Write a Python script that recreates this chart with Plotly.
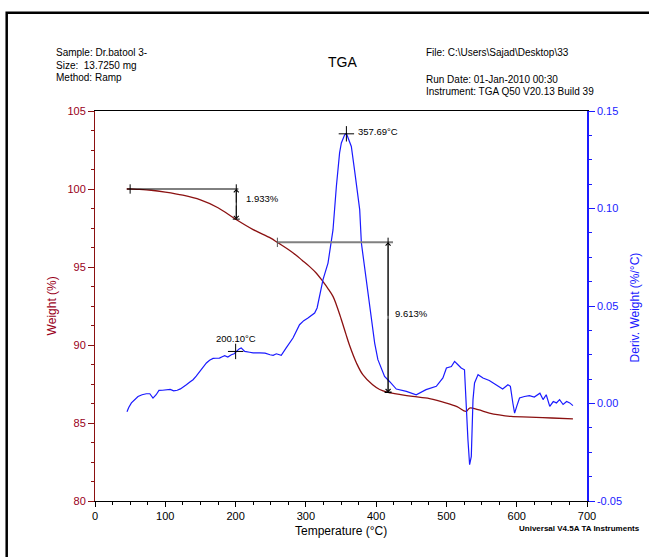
import plotly.graph_objects as go

# ---------------- data ----------------
tga_temp = [45, 50, 60, 80, 100, 125, 150, 175, 200, 225, 250, 260, 282, 295, 305, 315, 324, 331,
            338.6, 344, 350, 357, 362, 372, 381, 395, 405, 417, 435, 452, 476, 500, 515, 528, 533,
            545, 561, 575, 592, 618, 650, 680]
tga_weight = [100.0, 100.0, 99.98, 99.92, 99.8, 99.6, 99.3, 98.8, 98.07, 97.4, 96.85, 96.56, 95.9,
              95.42, 95.04, 94.6, 94.08, 93.65, 93.12, 92.5, 91.7, 90.7, 90.0, 88.85, 88.1, 87.45,
              87.15, 86.97, 86.82, 86.7, 86.56, 86.28, 86.05, 85.74, 85.96, 85.85, 85.64, 85.52,
              85.42, 85.38, 85.32, 85.27]

dtg_temp = [45.5, 48, 51.8, 56, 61.2, 67, 73, 78, 82.5, 87, 91, 96, 102, 107, 112, 117, 121.5, 126,
            130, 135, 139.5, 144, 149, 154, 158.5, 163, 168, 172, 177, 181, 184.5, 189, 194, 198,
            201, 205, 208, 213, 220, 225, 234.5, 242, 249, 253.5, 258, 265, 272, 281.7, 291, 297,
            303, 312.5, 316, 319.6, 324.4, 331.5, 336.3, 338.6, 343.4, 345.7, 348, 350.5, 355.2,
            357.7, 358.9, 361, 364.7, 369.5, 376.6, 379, 386, 393, 397.9, 402.5, 412, 419, 428.7,
            443, 457, 471, 485.6, 495, 500, 507, 511.6, 516.4, 521, 525.7, 528, 530.6, 533, 535.4,
            537.8, 540, 545, 552, 561, 571, 580, 587.5, 591, 594.6, 597, 600, 604, 611, 618, 625,
            630, 633, 637.5, 642, 647, 652, 656.5, 661, 666, 671, 675.5, 680]
dtg_value = [-0.0042, -0.002, 0.0003, 0.002, 0.0036, 0.0045, 0.005, 0.005, 0.0028, 0.0045, 0.0067,
             0.0068, 0.007, 0.0072, 0.0065, 0.0068, 0.0075, 0.0085, 0.0096, 0.011, 0.0122, 0.014,
             0.0165, 0.019, 0.0208, 0.0222, 0.0231, 0.0232, 0.0233, 0.024, 0.0245, 0.0238, 0.025,
             0.0255, 0.0267, 0.028, 0.0285, 0.0267, 0.0263, 0.026, 0.026, 0.0258, 0.025, 0.0247,
             0.0255, 0.0247, 0.0285, 0.0336, 0.0404, 0.0425, 0.0438, 0.0464, 0.049, 0.055, 0.0635,
             0.072, 0.0823, 0.089, 0.1113, 0.1216, 0.1285, 0.1336, 0.1378, 0.1385, 0.1373, 0.136,
             0.1318, 0.119, 0.0994, 0.0823, 0.0635, 0.0447, 0.031, 0.0225, 0.0139, 0.0113, 0.0074,
             0.0062, 0.0045, 0.0071, 0.0088, 0.0131, 0.0182, 0.019, 0.0216, 0.0199, 0.0182, 0.0173,
             -0.0032, -0.0186, -0.0314, -0.0271, 0.002, 0.0105, 0.0148, 0.0131, 0.0118, 0.0097,
             0.0074, 0.0096, 0.0088, 0.0, -0.0049, -0.0015, 0.0028, 0.0036, 0.004, 0.0033, 0.0048,
             0.0053, 0.002, 0.0045, -0.0015, 0.001, 0.0003, 0.002, -0.0005, 0.001, 0.0003, -0.0011]
assert len(tga_temp) == len(tga_weight)
assert len(dtg_temp) == len(dtg_value)

# step analysis annotations
step1 = dict(t_start=50, t_end=201, w_start=100.0, w_end=98.07, label="1.933%")
step2 = dict(t_start=259.5, t_end=417, w_start=96.58, w_end=86.97, label="9.613%")
peak_temps = [357.69, 200.10]
peak_values = [0.1383, 0.0267]
peak_labels = ["357.69°C", "200.10°C"]

x_ticks = [0, 100, 200, 300, 400, 500, 600, 700]
y_ticks = [80, 85, 90, 95, 100, 105]
y2_ticks = [-0.05, 0.00, 0.05, 0.10, 0.15]

BROWN = "#8b1111"
BROWN_TXT = "#99001a"
BLUE = "#1a1aff"
FONT = "Liberation Sans, Arial, sans-serif"
NARROW = "Liberation Sans Narrow, Liberation Sans, Arial, sans-serif"

W, H = 649, 557
L, R, T, B = 95.3, 587.3, 111.3, 501.3


def px(xp):
    return (xp - L) / (R - L)


def py(yp):
    return (B - yp) / (B - T)


fig = go.Figure()

fig.add_trace(go.Scatter(x=tga_temp, y=tga_weight, mode="lines", line=dict(color=BROWN, width=1.3, shape="spline"),
                         showlegend=False, hoverinfo="skip"))
fig.add_trace(go.Scatter(x=dtg_temp, y=dtg_value, mode="lines", yaxis="y2",
                         line=dict(color=BLUE, width=1.2), showlegend=False, hoverinfo="skip"))

# peak markers
fig.add_trace(go.Scatter(x=peak_temps, y=peak_values, mode="markers", yaxis="y2",
                         marker=dict(symbol="cross-thin", size=11, line=dict(color="black", width=1)),
                         showlegend=False, hoverinfo="skip"))

shapes = []
# step 1
shapes.append(dict(type="line", xref="x", yref="y", x0=45.5, x1=204, y0=step1["w_start"], y1=step1["w_start"],
                   line=dict(color="black", width=1)))
shapes.append(dict(type="line", xref="x", yref="y", x0=step1["t_start"], x1=step1["t_start"],
                   y0=step1["w_start"] - 0.3, y1=step1["w_start"] + 0.3, line=dict(color="black", width=1)))
shapes.append(dict(type="line", xref="x", yref="y", x0=step1["t_end"], x1=step1["t_end"],
                   y0=step1["w_end"], y1=step1["w_start"] + 0.3, line=dict(color="black", width=1)))
shapes.append(dict(type="line", xref="x", yref="y", x0=196, x1=206, y0=step1["w_end"], y1=step1["w_end"],
                   line=dict(color="black", width=1)))
# step 2
shapes.append(dict(type="line", xref="x", yref="y", x0=step2["t_start"], x1=424, y0=step2["w_start"],
                   y1=step2["w_start"], line=dict(color="#808080", width=2)))
shapes.append(dict(type="line", xref="x", yref="y", x0=step2["t_start"], x1=step2["t_start"],
                   y0=step2["w_start"] - 0.3, y1=step2["w_start"] + 0.3, line=dict(color="#555555", width=1)))
shapes.append(dict(type="line", xref="x", yref="y", x0=step2["t_end"], x1=step2["t_end"],
                   y0=step2["w_end"], y1=step2["w_start"] + 0.3, line=dict(color="black", width=1)))
shapes.append(dict(type="line", xref="x", yref="y", x0=412, x1=422, y0=step2["w_end"], y1=step2["w_end"],
                   line=dict(color="black", width=1.5)))
# outer frame
shapes.append(dict(type="rect", xref="paper", yref="paper", x0=px(7), x1=px(660), y0=py(570), y1=py(13),
                   line=dict(color="black", width=2.5), fillcolor="rgba(0,0,0,0)"))

annotations = []
# arrowheads for steps
for st in (step1, step2):
    for y_from, y_to in ((st["w_start"] - (st["w_start"] - st["w_end"]) * 0.5, st["w_start"]),
                         (st["w_start"] - (st["w_start"] - st["w_end"]) * 0.5, st["w_end"])):
        annotations.append(dict(x=st["t_end"], y=y_to, ax=st["t_end"], ay=y_from, xref="x", yref="y",
                                axref="x", ayref="y", text="", showarrow=True, arrowhead=4,
                                arrowsize=1.2, arrowwidth=0.8, arrowcolor="black"))

annotations.append(dict(x=211.5, y=99.38, xref="x", yref="y", text=step1["label"], showarrow=False,
                        xanchor="left", yanchor="middle", font=dict(family=FONT, size=9.5, color="black")))
annotations.append(dict(x=423.5, y=92.05, xref="x", yref="y", text=step2["label"], showarrow=False,
                        xanchor="left", yanchor="middle", font=dict(family=FONT, size=9.5, color="black")))
annotations.append(dict(x=371.8, y=0.1397, xref="x", yref="y2", text=peak_labels[0], showarrow=False,
                        xanchor="left", yanchor="middle", font=dict(family=FONT, size=9.5, color="black")))
annotations.append(dict(x=201, y=0.0333, xref="x", yref="y2", text=peak_labels[1], showarrow=False,
                        xanchor="center", yanchor="middle", font=dict(family=FONT, size=9.5, color="black")))

# header texts
hdr = dict(family=NARROW, size=10, color="black")
for txt, yp in (("Sample: Dr.batool 3-", 53), ("Size:  13.7250 mg", 66), ("Method: Ramp", 78)):
    annotations.append(dict(x=px(54), y=py(yp), xref="paper", yref="paper", text=txt, showarrow=False,
                            xanchor="left", yanchor="middle", font=hdr))
for txt, yp in (("File: C:\\Users\\Sajad\\Desktop\\33", 53), ("Run Date: 01-Jan-2010 00:30", 80),
                ("Instrument: TGA Q50 V20.13 Build 39", 92)):
    annotations.append(dict(x=px(424), y=py(yp), xref="paper", yref="paper", text=txt, showarrow=False,
                            xanchor="left", yanchor="middle", font=hdr))
annotations.append(dict(x=px(343), y=py(62), xref="paper", yref="paper", text="TGA", showarrow=False,
                        xanchor="center", yanchor="middle", font=dict(family=FONT, size=14, color="black")))
# axis titles
annotations.append(dict(x=px(52), y=py(306), xref="paper", yref="paper", text="Weight (%)", showarrow=False,
                        textangle=-90, xanchor="center", yanchor="middle",
                        font=dict(family=FONT, size=12, color=BROWN_TXT)))
annotations.append(dict(x=px(635), y=py(308), xref="paper", yref="paper", text="Deriv. Weight (%/°C)",
                        showarrow=False, textangle=-90, xanchor="center", yanchor="middle",
                        font=dict(family=FONT, size=12, color=BLUE)))
annotations.append(dict(x=px(341), y=py(531), xref="paper", yref="paper", text="Temperature (°C)",
                        showarrow=False, xanchor="center", yanchor="middle",
                        font=dict(family=FONT, size=12, color="black")))
annotations.append(dict(x=px(642), y=py(529), xref="paper", yref="paper", text="<b>Universal V4.5A TA Instruments</b>",
                        showarrow=False, xanchor="right", yanchor="middle",
                        font=dict(family=NARROW, size=8, color="black")))

fig.update_layout(
    width=W, height=H,
    margin=dict(l=L, r=W - R, t=T, b=H - B, pad=0),
    paper_bgcolor="white", plot_bgcolor="white",
    font=dict(family=FONT, size=11),
    xaxis=dict(range=[0, 700], tickvals=x_ticks, ticktext=[str(v) for v in x_ticks],
               showgrid=False, zeroline=False, showline=True, linecolor="black", linewidth=1,
               mirror=True, ticks="outside", ticklen=5, tickcolor="black",
               tickfont=dict(family=FONT, size=11, color="black"),
               minor=dict(dtick=25, tick0=0, ticks="outside", ticklen=3, tickcolor="black")),
    yaxis=dict(range=[80, 105], tickvals=y_ticks, ticktext=[str(v) for v in y_ticks],
               showgrid=False, zeroline=False, showline=True, linecolor=BROWN, linewidth=1,
               ticks="outside", ticklen=6, tickcolor=BROWN,
               tickfont=dict(family=FONT, size=11, color=BROWN_TXT),
               minor=dict(dtick=1.25, tick0=80, ticks="outside", ticklen=3, tickcolor=BROWN)),
    yaxis2=dict(range=[-0.05, 0.15], overlaying="y", side="right", anchor="x",
                tickvals=y2_ticks, ticktext=["-0.05", "0.00", "0.05", "0.10", "0.15"],
                showgrid=False, zeroline=False, showline=True, linecolor=BLUE, linewidth=1.5,
                ticks="outside", ticklen=6, tickcolor=BLUE,
                tickfont=dict(family=FONT, size=11, color=BLUE),
                minor=dict(dtick=0.0125, tick0=-0.05, ticks="outside", ticklen=3, tickcolor=BLUE)),
    shapes=shapes,
    annotations=annotations,
)

fig.write_html("out.html")
